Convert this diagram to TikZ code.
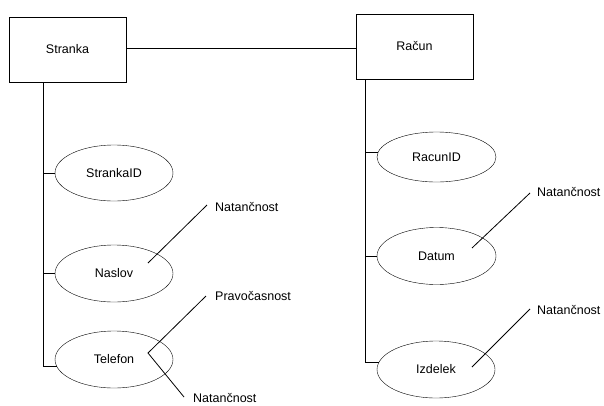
\documentclass[tikz,border=0pt]{standalone}
\usepackage{fontspec}
\setmainfont{Liberation Sans}
\usetikzlibrary{shapes.geometric}
\begin{document}
\begin{tikzpicture}[x=1pt,y=-1pt,
  every node/.style={font=\fontsize{12.5}{14}\selectfont},
  entity/.style={draw, rectangle, minimum width=117pt, minimum height=65pt, inner sep=0pt},
  attr/.style={draw, ellipse, minimum width=118pt, minimum height=57pt, inner sep=0pt},
  qual/.style={anchor=west, inner sep=0pt},
  link/.style={line width=0.8pt}]
\clip (0,0) rectangle (604,405);
\fill[white] (0,0) rectangle (604,405);

% entities
\node[entity] (stranka) at (67.5,49.5) {Stranka};
\node[entity] (racun) at (414.5,46.5) {Račun};

% attributes of Stranka
\node[attr, minimum height=56pt] (strankaid) at (114,173) {StrankaID};
\node[attr] (naslov) at (114,273.5) {Naslov};
\node[attr] (telefon) at (114,359.5) {Telefon};

% attributes of Račun
\node[attr, minimum width=119pt, minimum height=50pt] (racunid) at (436.5,157) {RacunID};
\node[attr, minimum width=119pt] (datum) at (436.5,256) {Datum};
\node[attr] (izdelek) at (436,369.5) {Izdelek};

% quality labels
\node[qual] (q1) at (215,207) {Natančnost};
\node[qual] (q2) at (215,296) {Pravočasnost};
\node[qual] (q3) at (193,398) {Natančnost};
\node[qual] (q4) at (537,192) {Natančnost};
\node[qual] (q5) at (537,310) {Natančnost};

% relationship line
\draw[link] ([yshift=1.5pt]stranka.east) -- ([yshift=1.5pt]stranka.east -| racun.west);

% attribute trees
\coordinate (sv) at ([xshift=-24.5pt]stranka.south);
\coordinate (rv) at ([xshift=-49.5pt]racun.south);
\draw[link] (sv) |- (telefon.187.5);
\draw[link] (strankaid.west -| sv) -- (strankaid.west);
\draw[link] (naslov.west -| sv) -- (naslov.west);
\draw[link] (rv) |- (izdelek.173.5);
\draw[link] (racunid.176.1 -| rv) -- (racunid.176.1);
\draw[link] (datum.west -| rv) -- (datum.west);

% quality connectors
\coordinate (j1) at (148,263);
\coordinate (j2) at (148,353);
\coordinate (j3) at (472,248);
\coordinate (j4) at (472,367);
\draw[link] (j1) -- ([xshift=-8pt,yshift=2pt]q1.west);
\draw[link] ([xshift=-9pt]q2.west) -- (j2) -- ([xshift=-9pt,yshift=1pt]q3.west);
\draw[link] (j3) -- ([xshift=-7pt,yshift=-1pt]q4.west);
\draw[link] (j4) -- ([xshift=-7pt,yshift=1pt]q5.west);
\end{tikzpicture}
\end{document}
